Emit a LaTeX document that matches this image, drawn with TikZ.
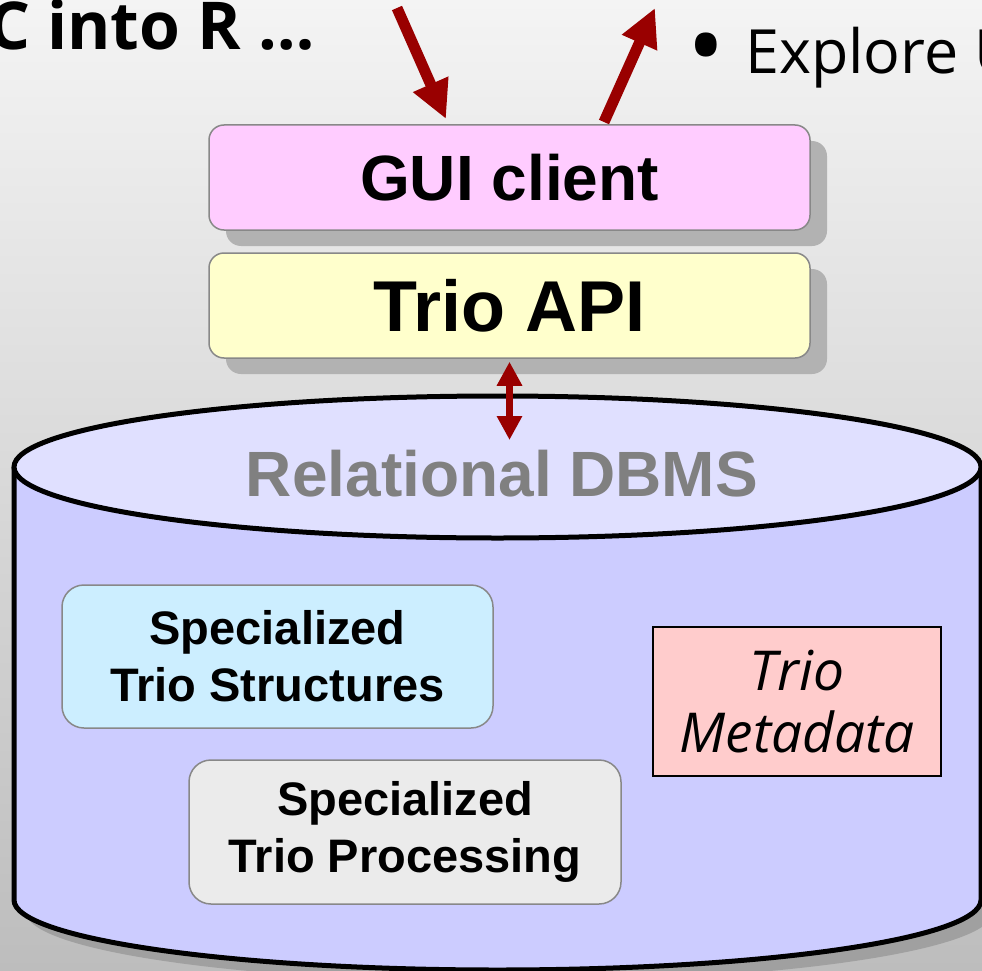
\documentclass[tikz,border=0pt]{standalone}
\usepackage{fontspec}
\setmainfont{Liberation Sans}
\newfontfamily\hum{Open Sans}
\usetikzlibrary{arrows.meta,shadows}
\definecolor{bgtop}{HTML}{F4F4F4}
\definecolor{bgbot}{HTML}{BDBDBD}
\definecolor{guipink}{HTML}{FFCCFF}
\definecolor{apiyellow}{HTML}{FFFFCC}
\definecolor{structblue}{HTML}{CCEEFF}
\definecolor{procgray}{HTML}{EBEBEB}
\definecolor{metapink}{HTML}{FFCCCC}
\definecolor{cylside}{HTML}{CCCCFF}
\definecolor{cyltop}{HTML}{E0E0FF}
\definecolor{dred}{HTML}{990000}
\definecolor{boxborder}{HTML}{888888}
\definecolor{boxshadow}{HTML}{B2B2B2}
\definecolor{cylshadow}{HTML}{A0A0A0}
\definecolor{dbtext}{HTML}{808080}
\tikzset{
  layerbox/.style={draw=boxborder, line width=1.5pt, rounded corners=15pt,
    minimum width=601pt, minimum height=105pt, inner sep=0pt,
    drop shadow={shadow xshift=17pt, shadow yshift=-16pt, fill=boxshadow, opacity=1}},
  innerbox/.style={draw=boxborder, line width=1.5pt, rounded corners=22pt,
    inner sep=0pt, align=center, font=\bfseries\fontsize{47}{57}\selectfont},
  bigarrow/.style={draw=dred, line width=11pt, -{Triangle[length=38pt,width=36pt]}},
  dblarrow/.style={draw=dred, line width=7pt,
    {Triangle[length=24pt,width=24pt]}-{Triangle[length=24pt,width=24pt]}},
  cylline/.style={draw=black, line width=5pt}
}
\begin{document}
\begin{tikzpicture}[x=1pt,y=-1pt]
\useasboundingbox (0,0) rectangle (982,971);
\clip (0,0) rectangle (982,971);
\shade[top color=bgtop, bottom color=bgbot] (0,0) rectangle (982,971);

% cylinder shadow
\begin{scope}[shift={(12,12)}]
\fill[cylshadow] (14,467) -- (14,900) arc[start angle=180, end angle=360, x radius=483.5pt, y radius=70pt] -- (981,467) -- cycle;
\end{scope}
% cylinder body
\fill[cylside] (14,467) -- (14,900) arc[start angle=180, end angle=360, x radius=483.5pt, y radius=70pt] -- (981,467) -- cycle;
\draw[cylline] (14,467) -- (14,900) arc[start angle=180, end angle=360, x radius=483.5pt, y radius=70pt] -- (981,467);
\filldraw[cylline, fill=cyltop] (497.5,467) ellipse [x radius=483.5pt, y radius=71pt];

% top text
\node[anchor=base east, inner sep=0pt, font=\hum\bfseries\fontsize{66}{66}\selectfont] (ctext) at (315,50) {C into R …};
\node[inner sep=0pt, font=\hum\fontsize{100}{100}\selectfont] (bullet) at (706,57) {•};
\node[anchor=base west, inner sep=0pt, font=\hum\fontsize{61}{61}\selectfont] (explore) at (745,74) {Explore U};

% layers
\node[layerbox, fill=guipink, font=\bfseries\fontsize{64}{64}\selectfont] (gui) at (509.5,177.5) {GUI client};
\node[layerbox, fill=apiyellow, font=\bfseries\fontsize{72}{72}\selectfont] (api) at (509.5,305.5) {Trio API};

% DBMS
\node[inner sep=0pt, text=dbtext, font=\bfseries\fontsize{64}{64}\selectfont] (dbms) at (502,474) {Relational DBMS};
\node[innerbox, fill=structblue, minimum width=431pt, minimum height=143pt] (struct) at (277.5,656.5) {Specialized\\Trio Structures};
\node[innerbox, fill=procgray, minimum width=432pt, minimum height=144pt] (proc) at (405,832) {Specialized\\Trio Processing};
\node[draw=black, line width=2pt, fill=metapink, minimum width=288pt, minimum height=149pt, inner sep=0pt, align=center, font=\hum\itshape\fontsize{55}{62}\selectfont] (meta) at (797,701.5) {Trio\\Metadata};

% arrows
\coordinate (a1s) at (397,8);
\coordinate (a1e) at (446,119);
\coordinate (a2s) at (604,122);
\coordinate (a2e) at (655,8);
\coordinate (dbin) at (509.5,440);
\draw[bigarrow] (a1s) -- (a1e);
\draw[bigarrow] (a2s) -- (a2e);
\draw[dblarrow] ([yshift=-3pt]api.south) -- (dbin);
\end{tikzpicture}
\end{document}
